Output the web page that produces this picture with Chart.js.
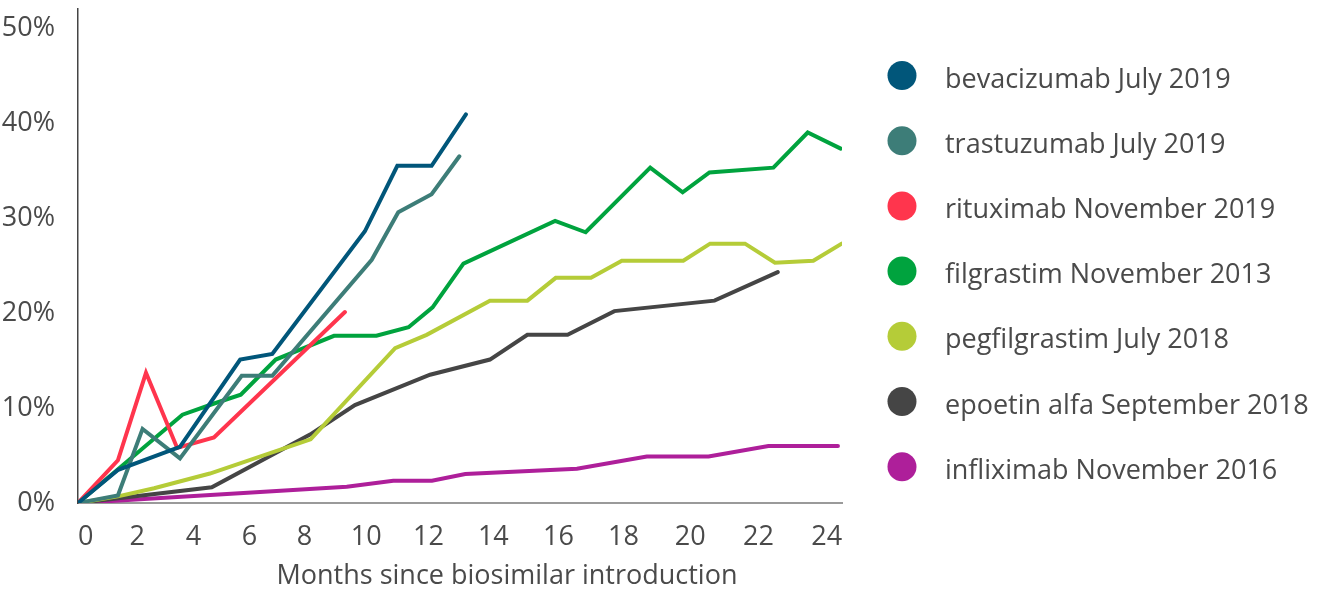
<!DOCTYPE html>
<html>
<head>
<meta charset="utf-8">
<title>Biosimilar uptake</title>
<script src="https://cdn.jsdelivr.net/npm/chart.js@4.4.1/dist/chart.umd.min.js"></script>
<style>
  html, body { margin: 0; padding: 0; background: #fff; }
  #wrap { width: 1323px; height: 593px; position: relative; }
</style>
</head>
<body>
<div id="wrap"><canvas id="uptakeChart"></canvas></div>
<script>
// months since launch (axis units) and share of market (%)
const bevacizumabMonths = [0, 1.29, 3.27, 5.2, 6.23, 9.2, 10.24, 11.34, 12.44];
const bevacizumabShare  = [0, 3.5, 5.9, 15.1, 15.7, 28.6, 35.5, 35.5, 40.9];

const trastuzumabMonths = [0, 1.28, 2.07, 3.27, 5.25, 6.23, 9.42, 10.27, 11.34, 12.23];
const trastuzumabShare  = [0, 0.8, 7.8, 4.7, 13.4, 13.4, 25.6, 30.6, 32.5, 36.5];

const rituximabMonths = [0, 1.28, 2.18, 3.18, 4.36, 8.56];
const rituximabShare  = [0, 4.5, 13.7, 5.8, 6.9, 20.1];

const filgrastimMonths = [0, 3.35, 4.39, 5.22, 6.34, 8.21, 9.57, 10.6, 11.37, 12.36, 15.3, 16.28, 18.35, 19.39, 20.25, 22.3, 23.4, 24.46];
const filgrastimShare  = [0, 9.3, 10.5, 11.4, 15.1, 17.6, 17.6, 18.5, 20.6, 25.2, 29.7, 28.5, 35.3, 32.7, 34.8, 35.3, 39.0, 37.3];

const pegfilgrastimMonths = [0, 1.28, 2.44, 4.23, 7.46, 10.17, 11.18, 13.21, 14.41, 15.32, 16.45, 17.44, 19.41, 20.27, 21.39, 22.35, 23.58, 24.49];
const pegfilgrastimShare  = [0, 0.7, 1.55, 3.1, 6.7, 16.3, 17.7, 21.3, 21.3, 23.7, 23.7, 25.5, 25.5, 27.3, 27.3, 25.3, 25.5, 27.3];

const epoetinMonths = [0, 4.29, 7.44, 8.88, 11.29, 13.21, 14.41, 15.7, 17.2, 20.41, 22.44];
const epoetinShare  = [0, 1.65, 7.2, 10.3, 13.5, 15.1, 17.7, 17.7, 20.2, 21.3, 24.3];

const infliximabMonths = [0, 8.62, 10.11, 11.35, 12.42, 16.0, 18.24, 20.22, 22.14, 24.37];
const infliximabShare  = [0, 1.7, 2.35, 2.35, 3.05, 3.6, 4.9, 4.9, 6.0, 6.0];

const xTickAt     = [0.25, 1.9, 3.7, 5.5, 7.26, 9.24, 11.24, 13.32, 15.41, 17.49, 19.63, 21.82, 24.01];
const xTickLabels = ['0', '2', '4', '6', '8', '10', '12', '14', '16', '18', '20', '22', '24'];
const yTicks      = [0, 10, 20, 30, 40, 50];
const xTitle      = 'Months since biosimilar introduction';

const FONT = '"Open Sans", "Noto Sans", sans-serif';
const TEXT = '#4a4a4a';

const pairs = (xs, ys) => xs.map((x, i) => ({ x: x, y: ys[i] }));

const series = [
    { label: 'bevacizumab July 2019',     color: '#01567a', data: pairs(bevacizumabMonths, bevacizumabShare) },
    { label: 'trastuzumab July 2019',     color: '#3d7d78', data: pairs(trastuzumabMonths, trastuzumabShare) },
    { label: 'rituximab November 2019',   color: '#ff354d', data: pairs(rituximabMonths, rituximabShare) },
    { label: 'filgrastim November 2013',  color: '#00a33e', data: pairs(filgrastimMonths, filgrastimShare) },
    { label: 'pegfilgrastim July 2018',   color: '#b5cc38', data: pairs(pegfilgrastimMonths, pegfilgrastimShare) },
    { label: 'epoetin alfa September 2018', color: '#454545', data: pairs(epoetinMonths, epoetinShare) },
    { label: 'infliximab November 2016',  color: '#ae1f9a', data: pairs(infliximabMonths, infliximabShare) }
];

// legend and axis title drawn on the canvas (legend sits right of the plot)
const sideLegend = {
    id: 'sideLegend',
    afterDraw(chart) {
        const ctx = chart.ctx;
        ctx.save();
        ctx.font = '400 27px ' + FONT;
        ctx.textBaseline = 'alphabetic';
        ctx.textAlign = 'left';
        chart.data.datasets.forEach((ds, i) => {
            const cy = 75.5 + i * 65.2;
            ctx.beginPath();
            ctx.arc(902, cy, 14.5, 0, Math.PI * 2);
            ctx.fillStyle = ds.borderColor;
            ctx.fill();
            ctx.fillStyle = TEXT;
            ctx.fillText(ds.label, 945, cy + 12);
        });
        ctx.textAlign = 'center';
        ctx.fillText(xTitle, 507, 584);
        ctx.restore();
    }
};

new Chart(document.getElementById('uptakeChart'), {
    type: 'line',
    data: {
        datasets: series.map(s => ({
            label: s.label,
            data: s.data,
            borderColor: s.color,
            backgroundColor: s.color,
            borderWidth: 4,
            borderCapStyle: 'round',
            pointRadius: 0,
            tension: 0,
            fill: false
        }))
    },
    options: {
        responsive: true,
        maintainAspectRatio: false,
        animation: false,
        layout: { padding: { top: 9, right: 481, bottom: 0, left: 0 } },
        plugins: {
            legend: { display: false },
            tooltip: { enabled: false }
        },
        scales: {
            x: {
                type: 'linear',
                min: 0,
                max: 24.5,
                grid: { display: false },
                border: { display: true, color: '#9a9a9a', width: 2 },
                afterBuildTicks: axis => { axis.ticks = xTickAt.map(v => ({ value: v })); },
                afterFit: axis => {
                    axis.height = 90;
                    axis.paddingLeft = 0;
                    axis.paddingRight = 0;
                },
                ticks: {
                    autoSkip: false,
                    maxRotation: 0,
                    padding: 10,
                    color: TEXT,
                    font: { family: FONT, size: 27, weight: 400 },
                    callback: (value, index) => xTickLabels[index]
                }
            },
            y: {
                min: 0,
                max: 52,
                grid: { display: false },
                border: { display: true, color: '#444', width: 1.5 },
                afterBuildTicks: axis => { axis.ticks = yTicks.map(v => ({ value: v })); },
                afterFit: axis => {
                    axis.width = 78;
                    axis.paddingTop = 0;
                    axis.paddingBottom = 0;
                },
                ticks: {
                    padding: 15,
                    color: TEXT,
                    font: { family: FONT, size: 27, weight: 400 },
                    callback: v => v + '%'
                }
            }
        }
    },
    plugins: [sideLegend]
});
</script>
</body>
</html>
